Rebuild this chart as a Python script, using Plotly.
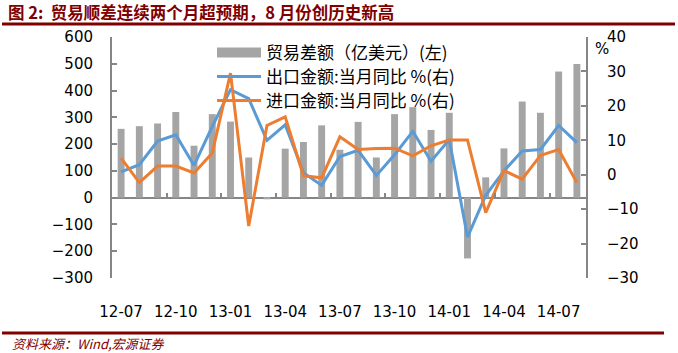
import plotly.graph_objects as go

months = ["12-07", "12-08", "12-09", "12-10", "12-11", "12-12", "13-01", "13-02", "13-03",
          "13-04", "13-05", "13-06", "13-07", "13-08", "13-09", "13-10", "13-11", "13-12",
          "14-01", "14-02", "14-03", "14-04", "14-05", "14-06", "14-07", "14-08"]
balance = [257, 267, 277, 320, 194, 312, 284, 150, -6, 183, 208, 270, 179, 283, 150, 312,
           338, 253, 317, -227, 76, 184, 359, 317, 471, 499]
export_yoy = [0.8, 2.9, 9.8, 11.6, 2.7, 14.0, 24.7, 22.1, 10.0, 14.5, 0.6, -3.1, 5.3, 7.1,
              -0.2, 5.8, 12.6, 3.9, 10.2, -18.1, -6.0, 1.1, 6.9, 7.3, 14.3, 9.3]
import_yoy = [4.8, -2.3, 2.5, 2.5, 0.5, 6.3, 29.5, -14.9, 14.3, 16.8, -0.3, -0.9, 11.0, 7.3,
              7.6, 7.7, 5.5, 8.4, 10.1, 10.1, -11.0, 1.2, -1.3, 5.6, 7.3, -2.3]
tick_labels = ["12-07", "12-10", "13-01", "13-04", "13-07", "13-10", "14-01", "14-04", "14-07"]

names = ["贸易差额（亿美元）(左)", "出口金额:当月同比 %(右)", "进口金额:当月同比 %(右)"]

GRAY = "#A5A5A5"
BLUE = "#5B9BD5"
ORANGE = "#ED7D31"
AXIS = "#868686"
DARKRED = "#7F0000"

idx = list(range(len(months)))
tick_idx = [months.index(t) for t in tick_labels]
boundary_ticks = [i + 2.5 for i in range(0, len(months) - 3, 3)]

fig = go.Figure()
fig.add_trace(go.Bar(x=idx, y=balance, marker=dict(color=GRAY, line=dict(width=0)),
                     width=0.38, showlegend=False, yaxis="y", xaxis="x"))
# legend swatch for bars
fig.add_trace(go.Scatter(x=[None], y=[None], mode="lines", name=names[0], legend="legend",
                         line=dict(color=GRAY, width=10), yaxis="y", xaxis="x"))
fig.add_trace(go.Scatter(x=idx, y=export_yoy, mode="lines", name=names[1], legend="legend2",
                         line=dict(color=BLUE, width=3), yaxis="y2", xaxis="x"))
fig.add_trace(go.Scatter(x=idx, y=import_yoy, mode="lines", name=names[2], legend="legend3",
                         line=dict(color=ORANGE, width=3), yaxis="y2", xaxis="x"))
# carrier for category boundary tick marks on the zero line
fig.add_trace(go.Scatter(x=idx, y=[None] * len(idx), mode="lines", showlegend=False,
                         xaxis="x2", yaxis="y", hoverinfo="skip"))

tickfont = dict(family="DejaVu Sans", size=15, color="#000000")


def legend_at(ypix):
    return dict(x=(212 - 112) / 474, y=(278 - ypix) / 241, xanchor="left", yanchor="middle",
                bgcolor="rgba(0,0,0,0)",
                font=dict(family="Noto Sans CJK SC", size=17, color="#000000"),
                itemwidth=44)


fig.update_layout(
    width=678, height=353,
    margin=dict(l=112, r=92, t=37, b=75),
    paper_bgcolor="white", plot_bgcolor="white",
    barmode="overlay",
    xaxis=dict(range=[-0.5, len(months) - 0.5], tickvals=tick_idx, ticktext=tick_labels,
               ticks="", showline=False, showgrid=False, zeroline=False,
               tickfont=tickfont, ticklabelstandoff=23),
    xaxis2=dict(overlaying="x", anchor="free", position=1 / 3, side="bottom",
                range=[-0.5, len(months) - 0.5], tickvals=boundary_ticks,
                ticks="inside", ticklen=5, tickwidth=2, tickcolor=AXIS,
                showticklabels=False, showline=False, showgrid=False, zeroline=False),
    yaxis=dict(range=[-300, 600], dtick=100, showgrid=False, zeroline=True,
               zerolinecolor=AXIS, zerolinewidth=2, showline=True, linecolor=AXIS,
               linewidth=2, ticks="inside", ticklen=5, tickwidth=2, tickcolor=AXIS,
               tickfont=tickfont, ticklabelstandoff=14),
    yaxis2=dict(range=[-30, 40], dtick=10, overlaying="y", side="right", showgrid=False,
                zeroline=False, showline=True, linecolor=AXIS, linewidth=2,
                ticks="inside", ticklen=5, tickwidth=2, tickcolor=AXIS,
                tickfont=tickfont, ticklabelstandoff=16),
    legend=legend_at(53),
    legend2=legend_at(77),
    legend3=legend_at(101),
    title=dict(text="<b>图 2:  贸易顺差连续两个月超预期，8 月份创历史新高</b>",
               xref="container", yref="container", x=8 / 678, y=1 - 13 / 353,
               xanchor="left", yanchor="middle",
               font=dict(family="Noto Sans CJK SC", size=16.5, color=DARKRED)),
    showlegend=True,
)

fig.add_annotation(text="%", xref="paper", yref="paper", x=(602 - 112) / 474,
                   y=(278 - 49) / 241, showarrow=False, xanchor="center", yanchor="middle",
                   font=dict(family="DejaVu Sans", size=15, color="#000000"))
fig.add_annotation(text="<i>资料来源：Wind,宏源证券</i>", xref="paper", yref="paper",
                   x=(10 - 112) / 474, y=(278 - 343) / 241, showarrow=False,
                   xanchor="left", yanchor="middle",
                   font=dict(family="Noto Sans CJK SC", size=13, color=DARKRED))
fig.add_shape(type="line", xref="paper", yref="paper", x0=(2 - 112) / 474,
              x1=(675 - 112) / 474, y0=(278 - 24) / 241, y1=(278 - 24) / 241,
              line=dict(color=DARKRED, width=3))
fig.add_shape(type="line", xref="paper", yref="paper", x0=(2 - 112) / 474,
              x1=(664 - 112) / 474, y0=(278 - 333) / 241, y1=(278 - 333) / 241,
              line=dict(color=DARKRED, width=3))

fig.write_html("out.html")
